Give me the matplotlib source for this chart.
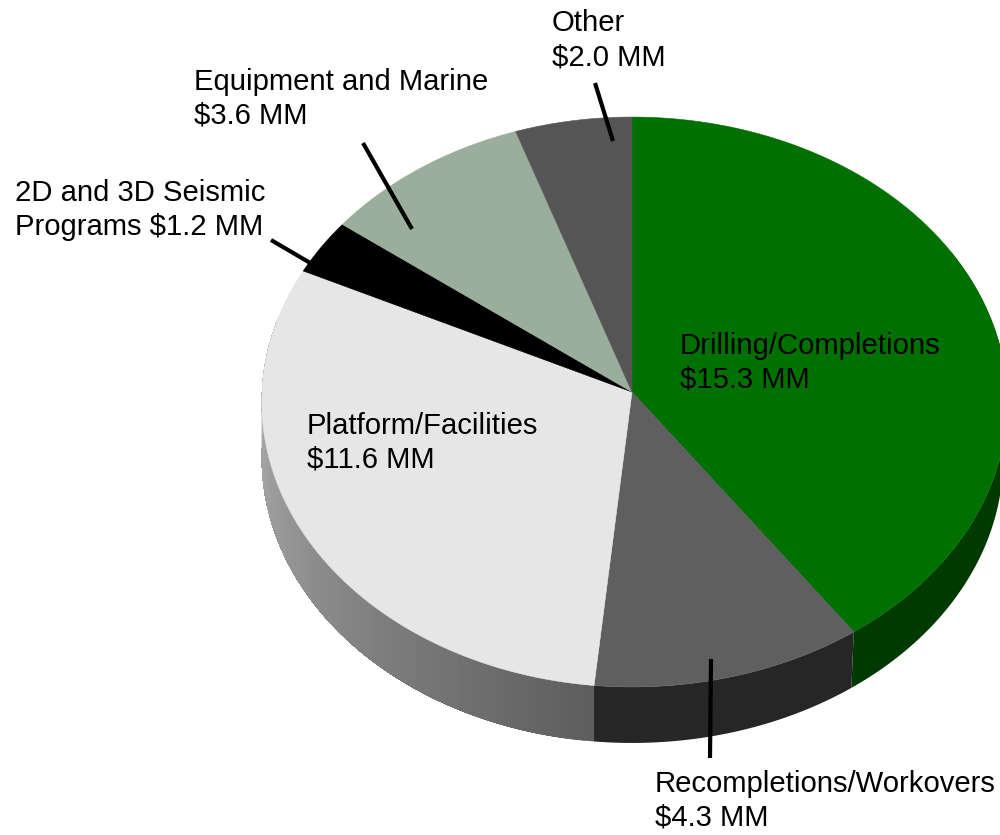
#!/bin/python3
import numpy as np
import matplotlib.pyplot as plt
from matplotlib.colors import to_rgb

plt.rcParams['font.family'] = ['Liberation Sans', 'DejaVu Sans']

labels = ["Drilling/Completions\n$15.3 MM", "Recompletions/Workovers\n$4.3 MM",
          "Platform/Facilities\n$11.6 MM", "2D and 3D Seismic\nPrograms $1.2 MM",
          "Equipment and Marine\n$3.6 MM", "Other\n$2.0 MM"]
values = [15.3, 4.3, 11.6, 1.2, 3.6, 2.0]
top_colors = ["#007000", "#5f5f5f", "#e6e6e6", "#000000", "#9bae9b", "#555555"]

# pie geometry in pixels
cx, cy = 632, 392
rx_left, rx_right, rx_right_low = 370, 375, 371
ry = 284.6
persp = 0.0351  # back of the disc is further away
depth = 56

label_pos = [(680, 388), (655, 826), (307, 468), (15, 235), (194, 124), (552, 65)]
leaders = [((363, 143), (412, 229)), ((595, 83), (613, 141)),
           ((271, 240), (312, 264)), ((711, 659), (710, 758))]


def rim(theta, lower=False):
    # theta in degrees, clockwise from 12 o'clock
    t = np.radians(theta)
    u, v = np.sin(t), np.cos(t)
    w = 1 + persp * v
    right = rx_right_low if lower else rx_right
    x = cx + np.where(u > 0, right, rx_left) * u / w
    y = cy - ry * v / w
    return x, y + depth if lower else y


def wall_poly(a0, a1):
    tt = np.linspace(a0, a1, 150)
    x, y = rim(tt)
    xl, yl = rim(tt, lower=True)
    return np.r_[x, xl[::-1]], np.r_[y, yl[::-1]]


fig = plt.figure(figsize=(10, 8.35), dpi=100)
ax = fig.add_axes([0, 0, 1, 1])
ax.set_xlim(0, 1000)
ax.set_ylim(835, 0)
ax.axis("off")

edges = np.concatenate([[0], np.cumsum(values)]) / sum(values) * 360

# side wall, only the part facing the viewer
ax.fill(*wall_poly(60, edges[1]), color="#003a00", lw=0, zorder=1)
ax.fill(*wall_poly(edges[1], edges[2]), color="#262626", lw=0, zorder=1)
steps = np.linspace(edges[2], 285, 80)
c0, c1 = np.array(to_rgb("#5e5e5e")), np.array(to_rgb("#b8b8b8"))
for i, a in enumerate(steps[:-1]):
    # each piece runs to the far end so there are no seams
    f = i / (len(steps) - 2)
    ax.fill(*wall_poly(a, steps[-1]), color=tuple((1 - f) * c0 + f * c1), lw=0, zorder=1)

# top face
for a0, a1, col in zip(edges[:-1], edges[1:], top_colors):
    x, y = rim(np.linspace(a0, a1, 200))
    ax.fill(np.r_[cx, x], np.r_[cy, y], color=col, lw=0.4, zorder=2)

for (x0, y0), (x1, y1) in leaders:
    ax.plot([x0, x1], [y0, y1], color="black", lw=3, solid_capstyle="butt", zorder=3)

for lab, (x, y) in zip(labels, label_pos):
    ax.text(x, y, lab, fontsize=21.1, color="black", ha="left", va="baseline",
            linespacing=1.28, zorder=4)

plt.savefig("out.png", dpi=100)
